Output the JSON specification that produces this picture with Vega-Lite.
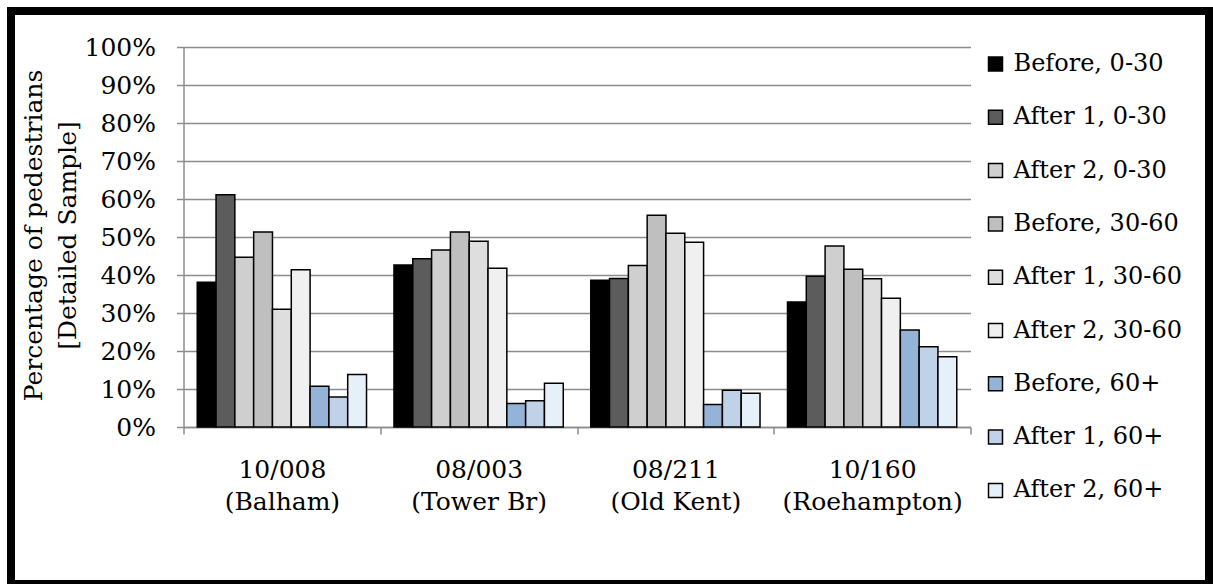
{
  "$schema": "https://vega.github.io/schema/vega-lite/v6.json",
  "width": 787,
  "height": 380,
  "autosize": {"type": "none"},
  "padding": {"left": 183.5, "top": 47, "right": 242.5, "bottom": 157},
  "background": "white",
  "config": {
    "font": "DejaVu Serif",
    "view": {"stroke": null}
  },
  "datasets": {
    "bars": [
      {"site": "10/008|(Balham)", "series": "Before, 0-30", "value": 0.381},
      {"site": "10/008|(Balham)", "series": "After 1, 0-30", "value": 0.611},
      {"site": "10/008|(Balham)", "series": "After 2, 0-30", "value": 0.447},
      {"site": "10/008|(Balham)", "series": "Before, 30-60", "value": 0.513},
      {"site": "10/008|(Balham)", "series": "After 1, 30-60", "value": 0.310},
      {"site": "10/008|(Balham)", "series": "After 2, 30-60", "value": 0.414},
      {"site": "10/008|(Balham)", "series": "Before, 60+", "value": 0.107},
      {"site": "10/008|(Balham)", "series": "After 1, 60+", "value": 0.079},
      {"site": "10/008|(Balham)", "series": "After 2, 60+", "value": 0.138},
      {"site": "08/003|(Tower Br)", "series": "Before, 0-30", "value": 0.426},
      {"site": "08/003|(Tower Br)", "series": "After 1, 0-30", "value": 0.443},
      {"site": "08/003|(Tower Br)", "series": "After 2, 0-30", "value": 0.466},
      {"site": "08/003|(Tower Br)", "series": "Before, 30-60", "value": 0.513},
      {"site": "08/003|(Tower Br)", "series": "After 1, 30-60", "value": 0.489},
      {"site": "08/003|(Tower Br)", "series": "After 2, 30-60", "value": 0.418},
      {"site": "08/003|(Tower Br)", "series": "Before, 60+", "value": 0.062},
      {"site": "08/003|(Tower Br)", "series": "After 1, 60+", "value": 0.069},
      {"site": "08/003|(Tower Br)", "series": "After 2, 60+", "value": 0.115},
      {"site": "08/211|(Old Kent)", "series": "Before, 0-30", "value": 0.386},
      {"site": "08/211|(Old Kent)", "series": "After 1, 0-30", "value": 0.391},
      {"site": "08/211|(Old Kent)", "series": "After 2, 0-30", "value": 0.425},
      {"site": "08/211|(Old Kent)", "series": "Before, 30-60", "value": 0.557},
      {"site": "08/211|(Old Kent)", "series": "After 1, 30-60", "value": 0.510},
      {"site": "08/211|(Old Kent)", "series": "After 2, 30-60", "value": 0.486},
      {"site": "08/211|(Old Kent)", "series": "Before, 60+", "value": 0.059},
      {"site": "08/211|(Old Kent)", "series": "After 1, 60+", "value": 0.097},
      {"site": "08/211|(Old Kent)", "series": "After 2, 60+", "value": 0.089},
      {"site": "10/160|(Roehampton)", "series": "Before, 0-30", "value": 0.329},
      {"site": "10/160|(Roehampton)", "series": "After 1, 0-30", "value": 0.397},
      {"site": "10/160|(Roehampton)", "series": "After 2, 0-30", "value": 0.476},
      {"site": "10/160|(Roehampton)", "series": "Before, 30-60", "value": 0.415},
      {"site": "10/160|(Roehampton)", "series": "After 1, 30-60", "value": 0.390},
      {"site": "10/160|(Roehampton)", "series": "After 2, 30-60", "value": 0.339},
      {"site": "10/160|(Roehampton)", "series": "Before, 60+", "value": 0.255},
      {"site": "10/160|(Roehampton)", "series": "After 1, 60+", "value": 0.211},
      {"site": "10/160|(Roehampton)", "series": "After 2, 60+", "value": 0.185}
    ]
  },
  "layer": [
    {
      "data": {"values": [{"frame": 1}]},
      "mark": {"type": "rect", "filled": false, "stroke": "black", "strokeWidth": 8, "clip": false},
      "encoding": {
        "x": {"value": -172.5},
        "x2": {"value": 1025.5},
        "y": {"value": -36},
        "y2": {"value": 537}
      }
    },
    {
      "data": {"name": "bars"},
      "mark": {"type": "bar", "stroke": "black", "strokeWidth": 1.5},
      "encoding": {
        "x": {
          "field": "site",
          "type": "nominal",
          "sort": null,
          "scale": {"paddingInner": 0, "paddingOuter": 0},
          "axis": {
            "title": null,
            "labelAngle": 0,
            "labelExpr": "split(datum.label, '|')",
            "labelFont": "DejaVu Serif",
            "labelFontSize": 25,
            "labelColor": "black",
            "labelLineHeight": 32,
            "labelBaseline": "top",
            "labelPadding": 23,
            "labelLimit": 300,
            "tickBand": "extent",
            "tickSize": 7,
            "tickColor": "#8c8c8c",
            "tickWidth": 1.5,
            "domainColor": "#8c8c8c",
            "domainWidth": 1.5,
            "grid": false
          }
        },
        "xOffset": {
          "field": "series",
          "type": "nominal",
          "sort": ["Before, 0-30", "After 1, 0-30", "After 2, 0-30", "Before, 30-60", "After 1, 30-60", "After 2, 30-60", "Before, 60+", "After 1, 60+", "After 2, 60+"],
          "scale": {"paddingInner": 0, "paddingOuter": 0.73}
        },
        "y": {
          "field": "value",
          "type": "quantitative",
          "scale": {"domain": [0, 1], "nice": false},
          "axis": {
            "title": ["Percentage of pedestrians", "[Detailed Sample]"],
            "titleFont": "DejaVu Serif",
            "titleFontSize": 25,
            "titleFontWeight": "normal",
            "titleColor": "black",
            "titleLineHeight": 34,
            "titleAngle": -90,
            "titleBaseline": "middle",
            "titleAlign": "center",
            "titleX": -150.5,
            "titleY": 188,
            "format": ".0%",
            "values": [0, 0.1, 0.2, 0.3, 0.4, 0.5, 0.6, 0.7, 0.8, 0.9, 1],
            "labelFont": "DejaVu Serif",
            "labelFontSize": 25,
            "labelColor": "black",
            "labelPadding": 21,
            "tickSize": 7,
            "tickColor": "#8c8c8c",
            "tickWidth": 1.5,
            "domainColor": "#8c8c8c",
            "domainWidth": 1.5,
            "gridColor": "#8c8c8c",
            "gridWidth": 1.5
          }
        },
        "color": {
          "field": "series",
          "type": "nominal",
          "scale": {
            "domain": ["Before, 0-30", "After 1, 0-30", "After 2, 0-30", "Before, 30-60", "After 1, 30-60", "After 2, 30-60", "Before, 60+", "After 1, 60+", "After 2, 60+"],
            "range": ["#000000", "#5c5c5c", "#cfcfcf", "#bfbfbf", "#dedede", "#f0f0f0", "#95b3d7", "#bfd2e8", "#e6f0f8"]
          },
          "legend": {
            "title": null,
            "orient": "none",
            "legendX": 800,
            "legendY": 5,
            "symbolType": "square",
            "symbolSize": 196,
            "symbolStrokeColor": "black",
            "symbolStrokeWidth": 1.5,
            "labelFont": "DejaVu Serif",
            "labelFontSize": 24,
            "labelColor": "black",
            "labelOffset": 6,
            "labelLimit": 300,
            "rowPadding": 29.3,
            "padding": 0
          }
        }
      }
    }
  ]
}
